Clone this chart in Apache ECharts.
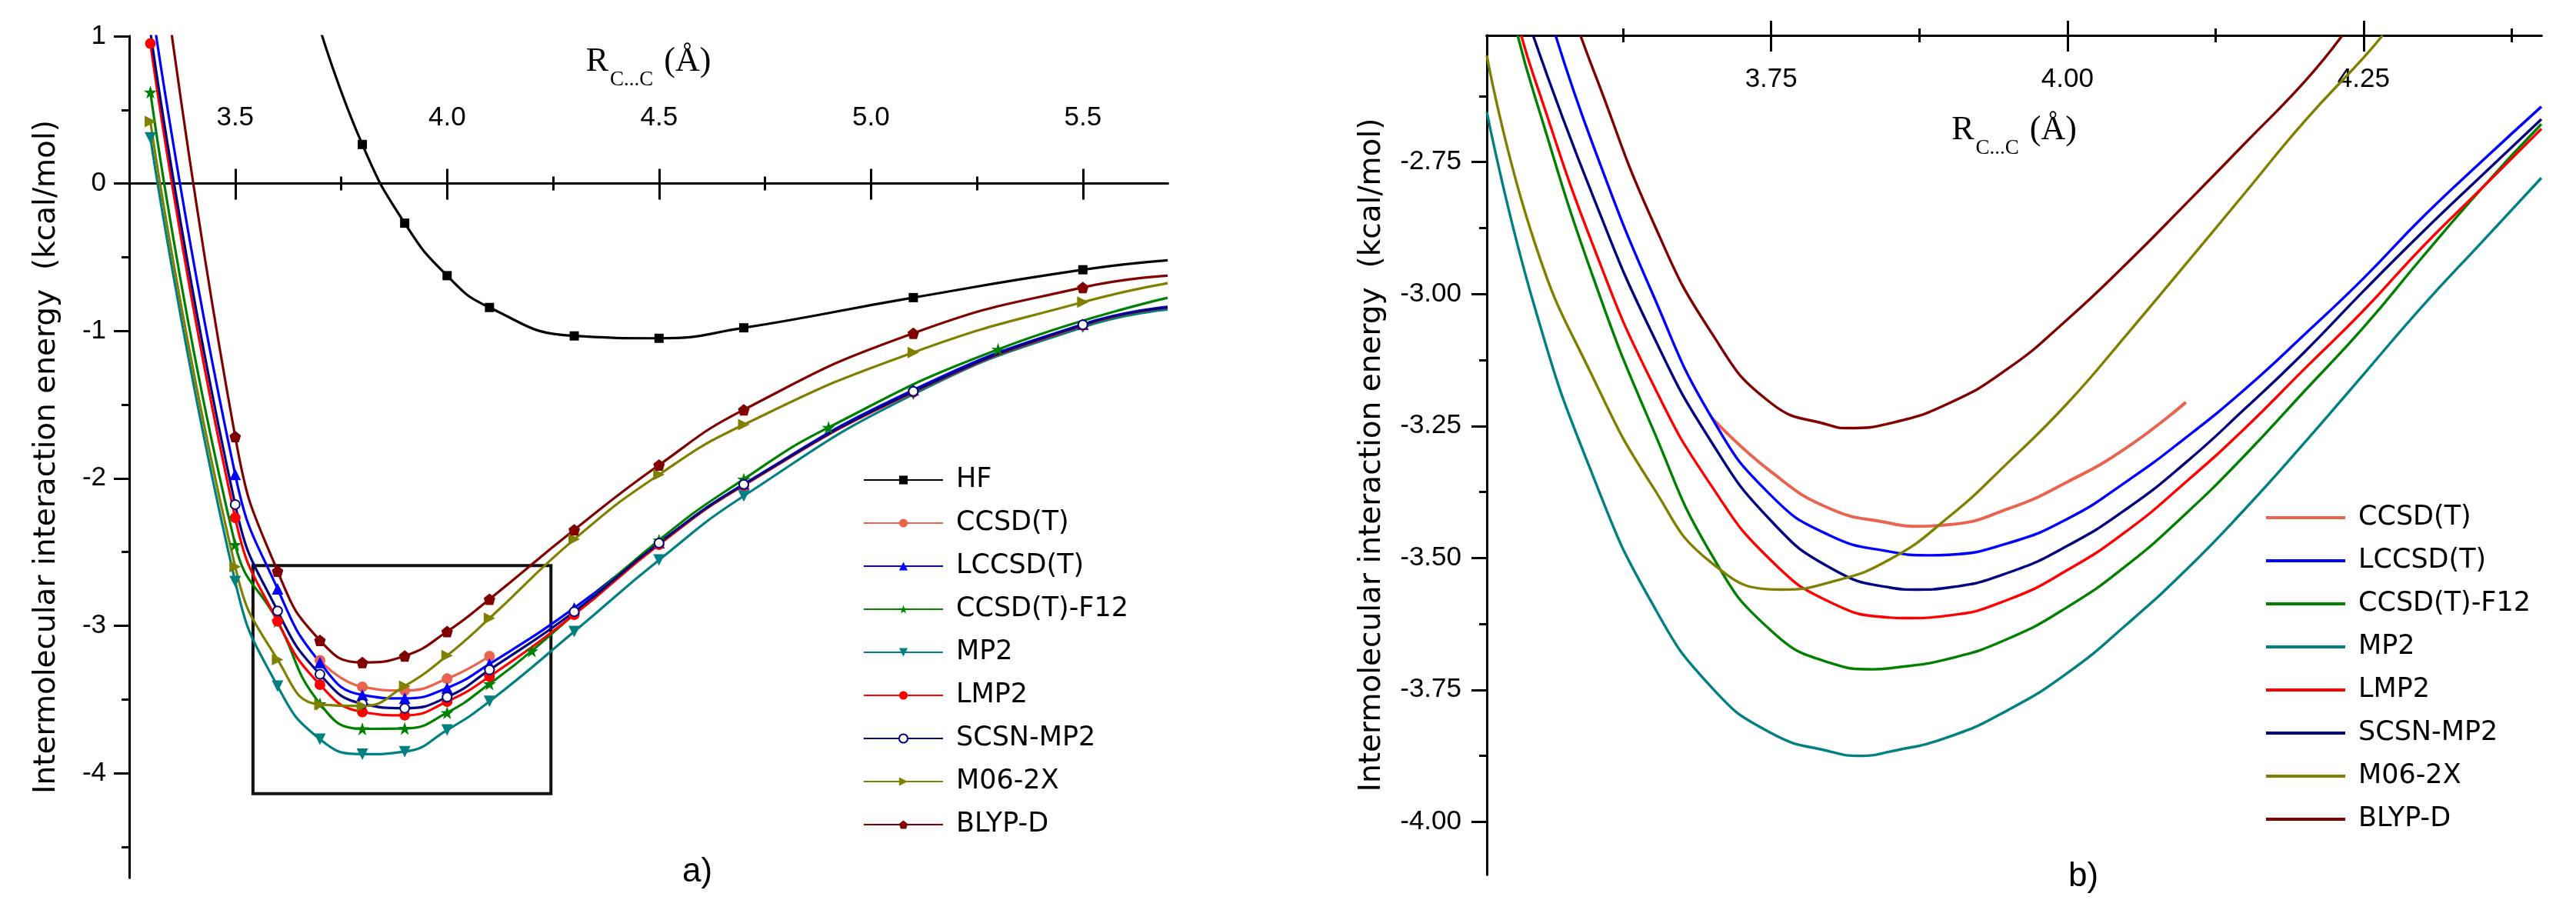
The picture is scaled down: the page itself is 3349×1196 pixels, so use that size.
<!DOCTYPE html>
<html>
<head>
<meta charset="utf-8">
<script src="https://cdn.jsdelivr.net/npm/echarts@6/dist/echarts.min.js"></script>
<style>
    html, body { margin: 0; padding: 0; background: #fff; }
    #chart { width: 3349px; height: 1196px; }
</style>
</head>
<body>
<div id="chart"></div>
<script>
// ---- panel a): computed points, C...C distance (Å) / energy (kcal/mol)
const rMain = [3.3, 3.5, 3.6, 3.7, 3.8, 3.9, 4.0, 4.1, 4.3, 4.5, 4.7, 5.1, 5.5, 5.7];
const rF12 = [3.3, 3.5, 3.6, 3.7, 3.8, 3.9, 4.0, 4.1, 4.2, 4.5, 4.7, 4.9, 5.3, 5.7];
const rHF = [3.7, 3.8, 3.9, 4.0, 4.1, 4.3, 4.5, 4.7, 5.1, 5.5, 5.7];
const rCCSDT = [3.7, 3.8, 3.9, 4.0, 4.1];

const eHF = [1.05, 0.265, -0.269, -0.625, -0.841, -1.034, -1.05, -0.979, -0.774, -0.585, -0.521];
const eCCSDT = [-3.235, -3.415, -3.44, -3.36, -3.207];
const eLCCSDT = [1.27, -1.974, -2.75, -3.25, -3.47, -3.493, -3.423, -3.26, -2.88, -2.437, -2.039, -1.40, -0.955, -0.836];
const eF12 = [0.62, -2.45, -2.97, -3.53, -3.70, -3.698, -3.59, -3.395, -3.171, -2.42, -2.006, -1.655, -1.125, -0.775];
const eMP2 = [0.31, -2.70, -3.41, -3.77, -3.872, -3.855, -3.708, -3.514, -3.04, -2.555, -2.12, -1.43, -0.975, -0.855];
const eLMP2 = [0.95, -2.268, -2.97, -3.40, -3.585, -3.608, -3.515, -3.345, -2.925, -2.45, -2.048, -1.415, -0.962, -0.842];
const eSCSN = [1.03, -2.178, -2.90, -3.33, -3.53, -3.56, -3.485, -3.30, -2.905, -2.44, -2.042, -1.41, -0.958, -0.84];
const eM062X = [0.42, -2.60, -3.23, -3.535, -3.545, -3.41, -3.203, -2.95, -2.414, -1.975, -1.636, -1.146, -0.805, -0.676];
const eBLYPD = [2.12, -1.717, -2.63, -3.10, -3.25, -3.205, -3.04, -2.82, -2.35, -1.91, -1.535, -1.016, -0.705, -0.625];

// ---- panel b): fitted curves
const bR_CCSDT = [3.70, 3.75, 3.80, 3.85, 3.87, 3.90, 3.95, 4.00, 4.05, 4.10];
const bE_CCSDT = [-3.235, -3.337, -3.407, -3.434, -3.440, -3.437, -3.407, -3.356, -3.291, -3.205];
const bR_LCCSDT = [3.568, 3.60, 3.65, 3.70, 3.75, 3.80, 3.85, 3.884, 3.90, 3.95, 4.00, 4.05, 4.10, 4.15, 4.20, 4.25, 4.30, 4.35, 4.40];
const bE_LCCSDT = [-2.51, -2.72, -3.00, -3.235, -3.382, -3.458, -3.488, -3.495, -3.494, -3.472, -3.426, -3.355, -3.272, -3.180, -3.077, -2.970, -2.854, -2.748, -2.645];
const bR_F12 = [3.536, 3.55, 3.60, 3.65, 3.70, 3.75, 3.80, 3.836, 3.85, 3.90, 3.95, 4.00, 4.05, 4.10, 4.15, 4.20, 4.25, 4.30, 4.35, 4.40];
const bE_F12 = [-2.51, -2.622, -2.97, -3.255, -3.495, -3.638, -3.699, -3.711, -3.709, -3.691, -3.653, -3.593, -3.514, -3.416, -3.305, -3.184, -3.063, -2.929, -2.799, -2.678];
const bR_MP2 = [3.51, 3.55, 3.60, 3.65, 3.70, 3.75, 3.80, 3.825, 3.85, 3.90, 3.95, 4.00, 4.05, 4.10, 4.15, 4.20, 4.25, 4.30, 4.35, 4.40];
const bE_MP2 = [-2.655, -3.022, -3.347, -3.588, -3.746, -3.832, -3.867, -3.875, -3.867, -3.839, -3.788, -3.718, -3.626, -3.523, -3.407, -3.282, -3.152, -3.022, -2.901, -2.780];
const bR_LMP2 = [3.539, 3.55, 3.60, 3.65, 3.70, 3.75, 3.80, 3.85, 3.862, 3.90, 3.95, 4.00, 4.05, 4.10, 4.15, 4.20, 4.25, 4.30, 4.35, 4.40];
const bE_LMP2 = [-2.51, -2.590, -2.910, -3.170, -3.365, -3.505, -3.584, -3.613, -3.614, -3.609, -3.579, -3.523, -3.449, -3.356, -3.254, -3.142, -3.031, -2.910, -2.799, -2.687];
const bR_SCSN = [3.549, 3.60, 3.65, 3.70, 3.75, 3.80, 3.85, 3.873, 3.90, 3.95, 4.00, 4.05, 4.10, 4.15, 4.20, 4.25, 4.30, 4.35, 4.40];
const bE_SCSN = [-2.51, -2.817, -3.077, -3.282, -3.430, -3.519, -3.556, -3.560, -3.556, -3.528, -3.477, -3.407, -3.319, -3.217, -3.110, -2.994, -2.882, -2.775, -2.669];
const bR_M062X = [3.51, 3.55, 3.60, 3.65, 3.70, 3.759, 3.80, 3.85, 3.90, 3.95, 4.00, 4.05, 4.10, 4.15, 4.20, 4.25, 4.266];
const bE_M062X = [-2.548, -2.90, -3.16, -3.365, -3.51, -3.560, -3.546, -3.503, -3.422, -3.319, -3.207, -3.077, -2.943, -2.808, -2.673, -2.552, -2.51];
const bR_BLYPD = [3.589, 3.60, 3.65, 3.70, 3.75, 3.80, 3.815, 3.85, 3.90, 3.95, 4.00, 4.05, 4.10, 4.15, 4.20, 4.232];
const bE_BLYPD = [-2.51, -2.576, -2.862, -3.075, -3.207, -3.249, -3.254, -3.245, -3.207, -3.141, -3.048, -2.942, -2.829, -2.714, -2.598, -2.51];

const methods = ["HF", "CCSD(T)", "LCCSD(T)", "CCSD(T)-F12", "MP2", "LMP2", "SCSN-MP2", "M06-2X", "BLYP-D"];
const aR = { "HF": rHF, "CCSD(T)": rCCSDT, "LCCSD(T)": rMain, "CCSD(T)-F12": rF12, "MP2": rMain,
    "LMP2": rMain, "SCSN-MP2": rMain, "M06-2X": rMain, "BLYP-D": rMain };
const aE = { "HF": eHF, "CCSD(T)": eCCSDT, "LCCSD(T)": eLCCSDT, "CCSD(T)-F12": eF12, "MP2": eMP2,
    "LMP2": eLMP2, "SCSN-MP2": eSCSN, "M06-2X": eM062X, "BLYP-D": eBLYPD };
const bR = { "CCSD(T)": bR_CCSDT, "LCCSD(T)": bR_LCCSDT, "CCSD(T)-F12": bR_F12, "MP2": bR_MP2,
    "LMP2": bR_LMP2, "SCSN-MP2": bR_SCSN, "M06-2X": bR_M062X, "BLYP-D": bR_BLYPD };
const bE = { "CCSD(T)": bE_CCSDT, "LCCSD(T)": bE_LCCSDT, "CCSD(T)-F12": bE_F12, "MP2": bE_MP2,
    "LMP2": bE_LMP2, "SCSN-MP2": bE_SCSN, "M06-2X": bE_M062X, "BLYP-D": bE_BLYPD };

// axis ticks
const aXMajor = [3.5, 4.0, 4.5, 5.0, 5.5];
const aXMinor = [3.75, 4.25, 4.75, 5.25];
const aYMajor = [1, 0, -1, -2, -3, -4];
const aYMinor = [0.5, -0.5, -1.5, -2.5, -3.5, -4.5];
const bXMajor = [3.75, 4.0, 4.25];
const bXMinor = [3.625, 3.875, 4.125, 4.375];
const bYMajor = [-2.75, -3.0, -3.25, -3.5, -3.75, -4.0];
const bYMinor = [-2.625, -2.875, -3.125, -3.375, -3.625, -3.875];

// zoomed region, drawn as a box in panel a)
const zoomBox = [[3.542, -2.592], [4.245, -4.14]];

const colors = { "HF": "#000000", "CCSD(T)": "#E9634E", "LCCSD(T)": "#0000FF", "CCSD(T)-F12": "#008000",
    "MP2": "#008080", "LMP2": "#FF0000", "SCSN-MP2": "#000080", "M06-2X": "#808000", "BLYP-D": "#800000" };
const STAR = "path://M50,2 L61.8,36.2 L97.6,36.2 L68.6,57.4 L79.4,91.6 L50,70.4 L20.6,91.6 L31.4,57.4 L2.4,36.2 L38.2,36.2 Z";
const PENTA = "path://M50,0 L100,40 L82,100 L18,100 L0,40 Z";
const marks = {
    "HF": { symbol: "rect", size: 12 },
    "CCSD(T)": { symbol: "circle", size: 14 },
    "LCCSD(T)": { symbol: "triangle", size: 15 },
    "CCSD(T)-F12": { symbol: STAR, size: 17 },
    "MP2": { symbol: "triangle", size: 15, rotate: 180 },
    "LMP2": { symbol: "circle", size: 14 },
    "SCSN-MP2": { symbol: "emptyCircle", size: 12, border: 4 },
    "M06-2X": { symbol: "triangle", size: 15, rotate: -90 },
    "BLYP-D": { symbol: PENTA, size: 15 }
};

const SANS = "Liberation Sans, Arial, sans-serif";
const WIDE = "DejaVu Sans, Verdana, sans-serif";
const SERIF = "Liberation Serif, Times New Roman, serif";
const AX = { color: "#000", width: 3 };
const A_MAX = 5.7;

const rName = {
    name: "{r|R}{s|C...C}{r| (Å)}",
    nameLocation: "middle",
    nameTextStyle: {
        color: "#000",
        rich: {
            r: { fontFamily: SERIF, fontSize: 44, color: "#000" },
            s: { fontFamily: SERIF, fontSize: 27, color: "#000", padding: [46, 3, 0, 2] }
        }
    }
};

function xAxesFor(grid, min, max, major, minor, label, name, onZeroY) {
    const tick = (vals, len, inside) => ({
        gridIndex: grid, type: "value", min: min, max: max, position: "top",
        axisLine: { onZero: onZeroY != null, onZeroAxisIndex: onZeroY, lineStyle: AX },
        axisTick: { customValues: vals, length: len, inside: inside, lineStyle: AX },
        axisLabel: { show: false },
        splitLine: { show: false }
    });
    const first = tick(major, 19, false);
    first.axisLabel = Object.assign({ show: true, customValues: major, color: "#000",
        fontFamily: SANS, fontSize: 35 }, label);
    Object.assign(first, name);
    return [first, tick(major, 21, true), tick(minor, 9, false), tick(minor, 9, true)];
}

function yAxesFor(grid, min, max, major, minor, label, name) {
    const tick = (vals, len) => ({
        gridIndex: grid, type: "value", min: min, max: max, position: "left",
        axisLine: { onZero: false, lineStyle: AX },
        axisTick: { customValues: vals, length: len, lineStyle: AX },
        axisLabel: { show: false },
        splitLine: { show: false }
    });
    const first = tick(major, 20);
    first.axisLabel = Object.assign({ show: true, customValues: major, color: "#000",
        fontFamily: SANS, fontSize: 35 }, label);
    Object.assign(first, name);
    return [first, tick(minor, 10)];
}

const yName = (gap) => ({
    name: "Intermolecular interaction energy  (kcal/mol)",
    nameLocation: "middle", nameRotate: 90, nameGap: gap,
    nameTextStyle: { fontFamily: WIDE, fontSize: 39, color: "#000" }
});

const pairs = (r, e) => r.map((x, i) => [x, e[i]]);

const leftSeries = methods.map((n) => {
    const m = marks[n];
    const s = {
        name: n, type: "line", xAxisIndex: 0, yAxisIndex: 0,
        data: pairs(aR[n], aE[n]),
        smooth: 0.5, clip: true, showAllSymbol: true,
        symbol: m.symbol, symbolRotate: m.rotate || 0,
        symbolSize: (v) => (v[0] >= A_MAX ? 0 : m.size),
        lineStyle: { color: colors[n], width: 3.2, join: "round" },
        itemStyle: { color: colors[n], borderColor: colors[n], borderWidth: m.border || 0 }
    };
    if (n === "HF") {
        s.markArea = {
            silent: true,
            itemStyle: { color: "rgba(0,0,0,0)", borderColor: "#111", borderWidth: 4 },
            label: { show: false },
            data: [[{ coord: zoomBox[0] }, { coord: zoomBox[1] }]]
        };
    }
    return s;
});

const rightSeries = methods.filter((n) => n !== "HF").map((n) => ({
    name: n, type: "line", xAxisIndex: 4, yAxisIndex: 2,
    data: pairs(bR[n], bE[n]),
    smooth: 0.5, clip: true, symbol: "none", showSymbol: false,
    lineStyle: { color: colors[n], width: n === "CCSD(T)" ? 4 : 3.4, join: "round" },
    itemStyle: { color: colors[n] }
}));

const legendText = { fontFamily: WIDE, fontSize: 35, color: "#000", lineHeight: 40, padding: [0, 0, 0, 12] };

const chart = echarts.init(document.getElementById("chart"), null, { renderer: "canvas" });
chart.setOption({
    animation: false,
    backgroundColor: "#fff",
    textStyle: { fontFamily: SANS },
    title: [
        { text: "a)", left: 887, top: 1112, padding: 0,
          textStyle: { fontFamily: SANS, fontSize: 44, fontWeight: "normal", color: "#000" } },
        { text: "b)", left: 2689, top: 1118, padding: 0,
          textStyle: { fontFamily: SANS, fontSize: 44, fontWeight: "normal", color: "#000" } }
    ],
    grid: [
        { left: 168, top: 47, width: 1350, height: 1094, outerBoundsMode: "none", containLabel: false },
        { left: 1933, top: 46, width: 1371, height: 1091, outerBoundsMode: "none", containLabel: false }
    ],
    legend: [
        { orient: "vertical", left: 1122, top: 604, padding: 0, itemWidth: 103, itemHeight: 14, itemGap: 16,
          textStyle: legendText, data: methods },
        { orient: "vertical", left: 2946, top: 653, padding: 0, itemWidth: 103, itemHeight: 4, itemGap: 16,
          icon: "rect", itemStyle: { borderWidth: 0 }, textStyle: legendText,
          data: methods.filter((n) => n !== "HF") }
    ],
    xAxis: [].concat(
        // the axis line sits on y = 0, but its labels and name are laid out from the grid's top edge
        xAxesFor(0, 3.25, A_MAX, aXMajor, aXMinor,
            { margin: -124, formatter: (v) => v.toFixed(1) },
            Object.assign({ nameGap: -70 }, rName), 0),
        xAxesFor(1, 3.51, 4.40, bXMajor, bXMinor,
            { margin: 40, inside: true, formatter: (v) => v.toFixed(2) },
            Object.assign({ nameGap: -160 }, rName), null)
    ),
    yAxis: [].concat(
        yAxesFor(0, -4.71, 1, aYMajor, aYMinor, { margin: 30, formatter: (v) => String(v) }, yName(88)),
        yAxesFor(1, -4.10, -2.51, bYMajor, bYMinor, { margin: 33, formatter: (v) => v.toFixed(2) }, yName(130))
    ),
    series: leftSeries.concat(rightSeries)
});
</script>
</body>
</html>
